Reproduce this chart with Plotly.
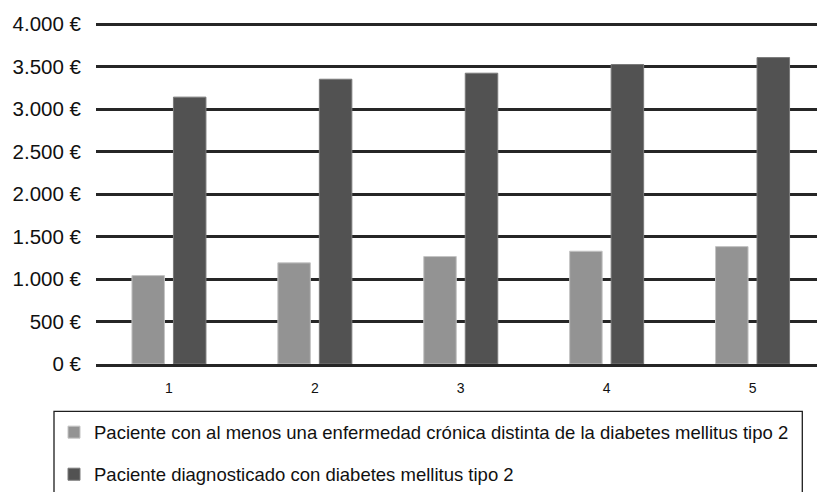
import plotly.graph_objects as go

# Annual cost per patient, five consecutive years
years = ["1", "2", "3", "4", "5"]
cost_other_chronic = [1041, 1191, 1265, 1328, 1382]
cost_diabetes = [3142, 3353, 3424, 3526, 3608]

series_names = [
    "Paciente con al menos una enfermedad crónica distinta de la diabetes mellitus tipo 2",
    "Paciente diagnosticado con diabetes mellitus tipo 2",
]

y_tick_values = [0, 500, 1000, 1500, 2000, 2500, 3000, 3500, 4000]
y_tick_labels = ["0 €", "500 €", "1.000 €", "1.500 €", "2.000 €",
                 "2.500 €", "3.000 €", "3.500 €", "4.000 €"]

W, H = 817, 492
PLOT_L, PLOT_R = 96, 817
PLOT_T, PLOT_B = 19.7, 364.3
pw = PLOT_R - PLOT_L
ph = PLOT_B - PLOT_T


def px_x(v):
    return (v - PLOT_L) / pw


def px_y(v):
    return (PLOT_B - v) / ph


FONT = "Liberation Sans, Arial, Helvetica, sans-serif"

fig = go.Figure()
fig.add_trace(go.Bar(
    x=years, y=cost_other_chronic, name=series_names[0],
    marker=dict(color="#939393", line=dict(color="#c4c4c4", width=1)),
    legendgroup="a",
))
fig.add_trace(go.Bar(
    x=years, y=cost_diabetes, name=series_names[1],
    marker=dict(color="#525252", line=dict(color="#7a7a7a", width=1)),
    legendgroup="b",
))

# Legend frame (runs past the bottom edge of the page)
fig.add_shape(
    type="rect", xref="paper", yref="paper",
    x0=px_x(54), x1=px_x(802.3), y0=px_y(520), y1=px_y(411.7),
    line=dict(color="#1e1e1e", width=1.3), fillcolor="rgba(0,0,0,0)",
    layer="above",
)

fig.update_layout(
    width=W, height=H,
    margin=dict(l=PLOT_L, r=W - PLOT_R, t=PLOT_T, b=H - PLOT_B, autoexpand=False),
    paper_bgcolor="white", plot_bgcolor="white",
    barmode="group", bargap=0.431, bargroupgap=0.217,
    font=dict(family=FONT, color="#111111"),
    showlegend=True,
    legend=dict(
        x=px_x(54), y=px_y(414), xanchor="left", yanchor="top",
        orientation="v", traceorder="grouped", tracegroupgap=15,
        itemwidth=30, font=dict(size=18.5, family=FONT, color="#111111"),
        bgcolor="rgba(0,0,0,0)", borderwidth=0,
    ),
    xaxis=dict(
        range=[-0.5, -0.5 + pw / 145.9], type="category",
        showline=True, linecolor="#262626", linewidth=2.5,
        showgrid=False, ticks="", ticklabelstandoff=9,
        tickfont=dict(size=14, family=FONT, color="#111111"),
    ),
    yaxis=dict(
        range=[0, ph / 0.08508], tickvals=y_tick_values, ticktext=y_tick_labels,
        showgrid=True, gridcolor="#262626", gridwidth=2.5,
        zeroline=False, showline=False, ticks="", ticklabelstandoff=14,
        tickfont=dict(size=20.5, family=FONT, color="#111111"),
    ),
)

fig.write_html("out.html")
